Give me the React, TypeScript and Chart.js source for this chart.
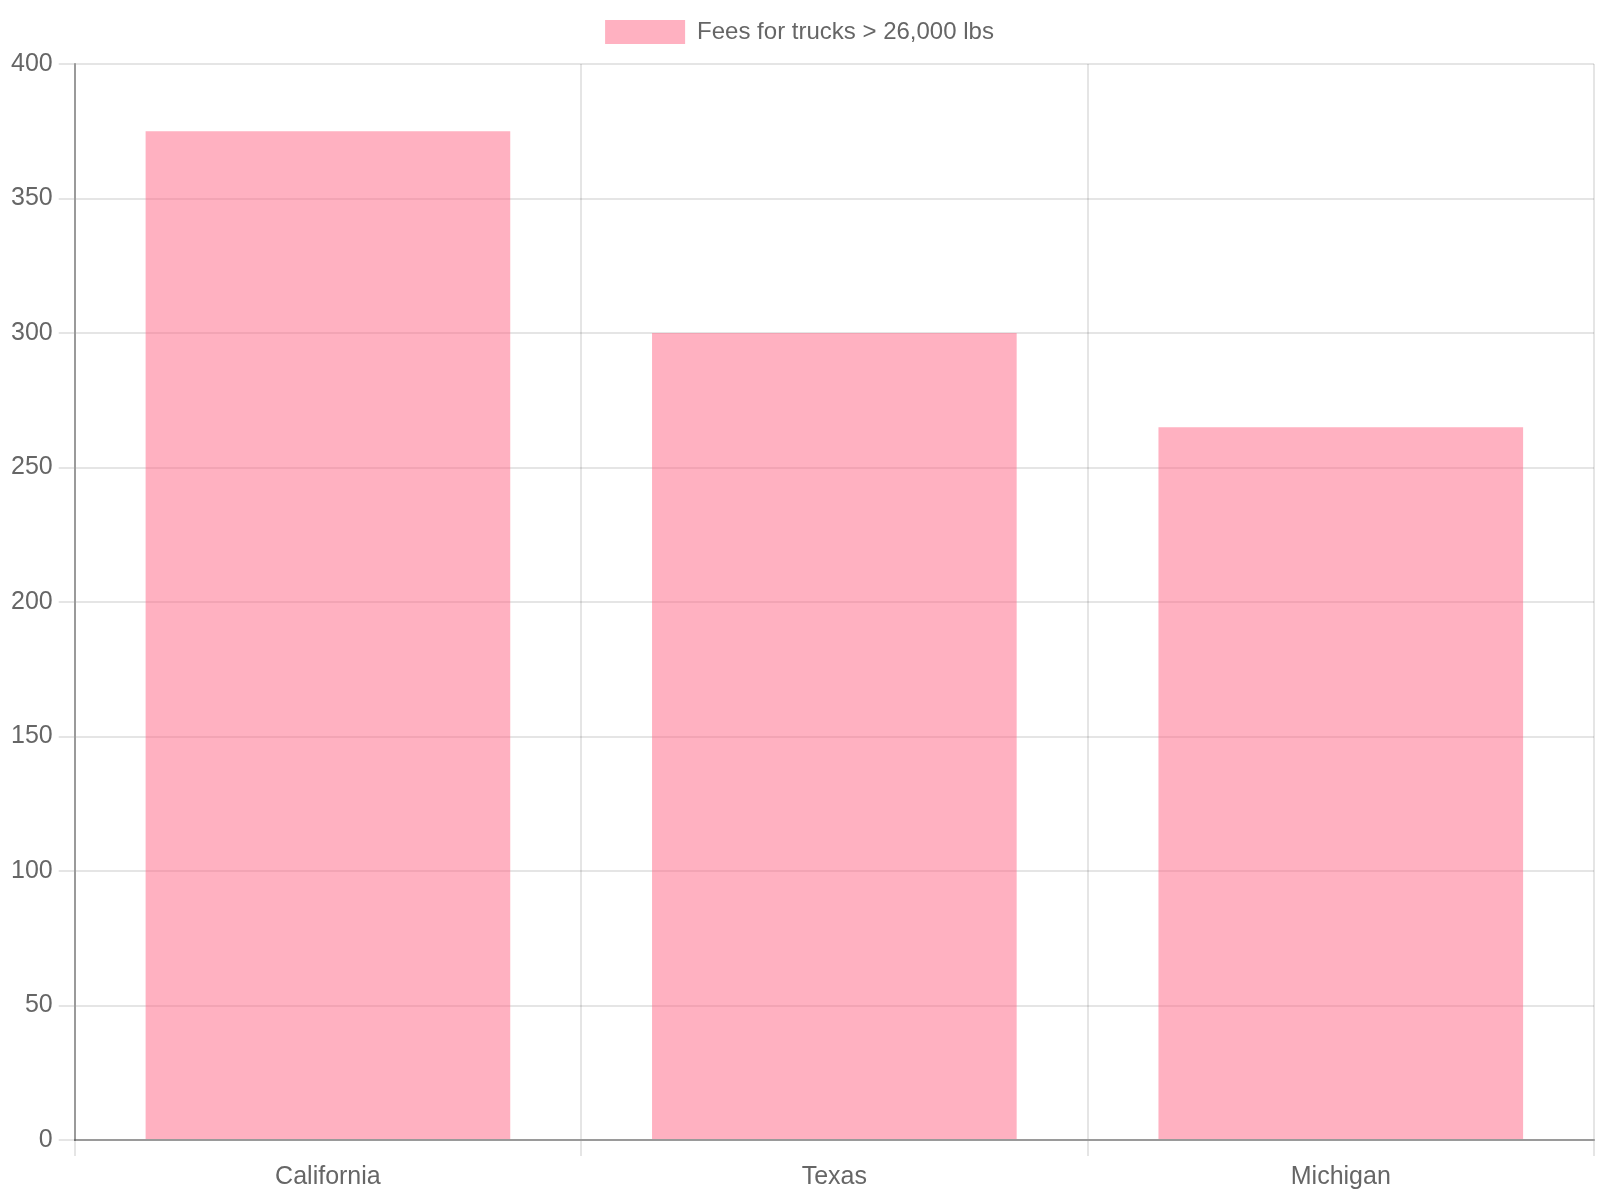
import { useEffect, useRef } from "react"
import { Chart, ChartConfiguration, Plugin, registerables } from "chart.js"

Chart.register(...registerables)

const states = ["California", "Texas", "Michigan"]
const fees = [375, 300, 265]
const seriesLabel = "Fees for trucks > 26,000 lbs"

const grey = "#666"
const gridColor = "rgba(0,0,0,0.1)"
const axisColor = "rgba(0,0,0,0.33)"
const family = "'Liberation Sans', Arial, sans-serif"
const legendFont = { family, size: 24 }
const tickFont = { family, size: 25 }

// a bit of room between the legend and the plot
const legendSpacer: Plugin = {
	id: "legendSpacer",
	beforeInit(chart: any) {
		const legend = chart.legend
		if (!legend) return
		const fit = legend.fit
		legend.fit = function () {
			fit.call(this)
			this.height += 10
		}
	}
}

const config: ChartConfiguration = {
	type: "bar",
	data: {
		labels: states,
		datasets: [
			{
				label: seriesLabel,
				data: fees,
				backgroundColor: "rgba(255, 99, 132, 0.5)",
				borderWidth: 0
			}
		]
	},
	options: {
		animation: false,
		responsive: false,
		devicePixelRatio: 1,
		layout: { padding: { left: 5, right: 6, bottom: 2 } },
		plugins: {
			legend: {
				display: true,
				position: "top",
				labels: {
					boxWidth: 80,
					boxHeight: 24,
					padding: 20,
					color: grey,
					font: legendFont
				}
			},
			tooltip: { enabled: false }
		},
		scales: {
			x: {
				grid: {
					color: gridColor,
					lineWidth: 2,
					tickLength: 16,
					offset: true
				},
				border: { color: axisColor, width: 2 },
				ticks: { color: grey, font: tickFont, padding: 6 }
			},
			y: {
				min: 0,
				max: 400,
				grid: {
					color: gridColor,
					lineWidth: 2,
					tickLength: 16
				},
				border: { color: axisColor, width: 2 },
				ticks: { color: grey, font: tickFont, padding: 6, stepSize: 50 }
			}
		}
	},
	plugins: [legendSpacer]
}

export default function App() {
	const canvasRef = useRef<HTMLCanvasElement>(null)

	useEffect(() => {
		const ctx = canvasRef.current?.getContext("2d") as CanvasRenderingContext2D
		const chart = new Chart(ctx, config)
		return () => {
			chart.destroy()
		}
	}, [])

	return (
		<div style={{ position: "fixed", left: 0, top: 0, width: 1600, height: 1200, background: "#fff" }}>
			<canvas ref={canvasRef} width={1600} height={1200} />
		</div>
	)
}
